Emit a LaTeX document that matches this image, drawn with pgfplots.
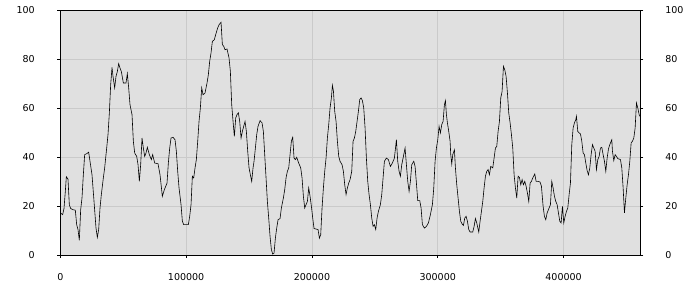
\documentclass[border=0pt]{standalone}
\usepackage{pgfplots}
\pgfplotsset{compat=1.18}
\usepackage{fontspec}
\setmainfont{DejaVu Sans}
\definecolor{bg}{HTML}{E0E0E0}
\definecolor{gridc}{HTML}{CACACA}
\begin{document}
\begin{tikzpicture}
\useasboundingbox (-60.3pt,-45pt) rectangle (639.7pt,255pt);
\begin{axis}[
  at={(0pt,0pt)}, anchor=south west,
  scale only axis, width=580pt, height=244.7pt,
  xmin=0, xmax=461000, ymin=0, ymax=100,
  xtick={0,100000,200000,300000,400000},
  ytick={0,20,40,60,80,100},
  scaled x ticks=false,
  xticklabel style={/pgf/number format/fixed,/pgf/number format/1000 sep={}},
  /pgf/number format/assume math mode=true,
  tick label style={font=\fontsize{9.5}{11}\selectfont, text=black},
  xticklabel style={yshift=-11.5pt},
  yticklabel style={xshift=-19pt},
  xtick pos=bottom, ytick pos=left,
  tick align=outside, major tick length=3pt,
  tick style={black, line width=0.8pt},
  axis line style={black, line width=0.9pt},
  grid=major, major grid style={gridc, line width=0.8pt},
  axis background/.style={fill=bg},
]
\addplot[black, line width=0.6pt, mark=none] coordinates {
(0,17.2)(1880,16.5)(2940,19)(4000,26)(4800,32)(6120,31)(7180,20.5)(8240,19)(10100,18.5)(11950,18.3)
(13010,12.4)(14070,10.4)(15130,6)(16190,18.5)(17250,23.3)(18310,32.8)(19370,41)(20960,41.4)(22550,42)(23610,38.3)
(25200,32.8)(26790,22)(28380,11)(29440,7.2)(30500,10.4)(31560,19.2)(32620,24.7)(34210,31.5)(35270,35.6)(36860,43.7)
(37920,49.2)(38980,58)(40040,69.6)(41100,76.7)(41900,73)(43220,68.3)(44280,73)(45340,75)(46400,78.2)(47460,76.4)
(48520,75)(50110,70.3)(52230,70.3)(53290,74.1)(54350,68.3)(55410,61.4)(57000,57.4)(58060,46.5)(59120,41.7)(60710,40.3)
(61770,37)(62830,30.1)(63890,37)(64950,47.8)(66010,43.7)(67070,40.3)(68130,41.7)(69190,44)(70780,41)(72370,39)
(73430,41)(75020,37.6)(77670,37.3)(79260,32.8)(81110,24)(82700,26.7)(84830,29.4)(85880,37.6)(86950,43.7)(88010,47.8)
(89600,48.1)(91190,47.1)(92240,42.4)(93310,34.2)(94370,27.4)(95960,20.6)(97010,13.8)(98080,12.4)(101780,12.4)(102850,15.8)
(103910,20.6)(104960,32.2)(106030,31.5)(107090,35.6)(108140,39)(109210,46.5)(110270,54.6)(111320,60.1)(112390,68.3)(113450,65.5)
(115040,66.2)(116630,70.3)(117680,73.7)(118750,79.2)(119810,82.6)(120860,87.3)(122450,88)(123520,90.1)(125110,92.8)(126170,94.1)
(127760,95.1)(128810,86)(129880,85.3)(130940,83.9)(132530,84.2)(134120,80.5)(135170,75.1)(136240,61.4)(137300,54.6)(138350,48.5)
(139420,56)(140480,57.4)(141530,58.1)(142600,54.6)(143660,47.8)(144710,50.5)(145780,52.6)(146840,54.6)(147890,50.5)(148960,42.4)
(150020,35.6)(151070,32.8)(152140,30.1)(153200,35.6)(153990,38.3)(155050,43.7)(156110,49.2)(157170,52.6)(158760,54.9)(160350,54)
(161410,50.5)(162470,41)(163530,31.5)(164590,21.9)(165650,15.1)(166710,7.6)(167770,2.2)(168830,0.4)(169890,0.8)(170950,6.9)
(172010,11)(173070,14.4)(174660,14.9)(175720,19.2)(177310,23.3)(178370,26.7)(179430,31.5)(180490,34.2)(181550,35.6)(182610,41)
(183670,46.5)(184730,48.1)(185790,39.6)(186850,39)(187910,39.9)(188970,38.3)(190030,36.9)(191090,35.6)(192150,31.5)(193210,24)
(194270,19.2)(195330,20.6)(196390,21.9)(197450,27.4)(198510,24)(199570,19.9)(200630,15.1)(201690,10.8)(203280,10.6)(204870,10.4)
(205930,6.9)(206990,8.3)(208050,19.2)(209110,27.4)(210170,34.2)(211230,39.6)(212290,47.8)(213350,53.3)(214410,60.1)(215470,64.2)
(216260,69.3)(217060,67.2)(218120,58.7)(219180,54.6)(220240,46.5)(221300,40.3)(222360,38.3)(223950,36.9)(225010,34.2)(226070,28.7)
(227130,24.7)(228190,27.4)(229250,29.4)(230310,30.8)(231640,34.2)(232700,46.5)(233750,47.8)(234820,50.5)(235880,54.6)(236930,58.7)
(238000,63.5)(239060,64.2)(240110,63.1)(241180,60.1)(242240,51.9)(243290,39.6)(244360,30.1)(245420,24.7)(246470,20.6)(247540,15.1)
(248600,11.7)(249650,12.4)(250720,10.4)(251780,15.1)(252830,17.8)(254420,20.6)(255490,24.7)(256550,31.5)(257600,38.3)(259190,39.6)
(260780,39)(262370,36.2)(263960,37.6)(265550,39.6)(267140,47.1)(268200,38.3)(269270,34.2)(270320,32.2)(271390,36.9)(272450,39.6)
(274040,43.7)(275090,36.9)(276160,30.1)(277220,26)(278270,30.1)(279340,36.9)(280930,38.3)(281990,36.2)(283040,29.4)(284110,22.2)
(285700,22.2)(286760,19.2)(287810,12.4)(289400,11)(290990,11.7)(292580,13.1)(294170,16.5)(295760,20.6)(296830,27.4)(297890,38.3)
(298940,43.7)(300010,47.1)(301070,52.6)(302120,49.9)(303190,53.3)(304250,54.6)(305300,61.4)(306100,63.1)(306890,57.4)(307690,54)
(308750,50.5)(309810,46.5)(310340,41)(311140,37.2)(311930,41)(313250,43)(314050,35.6)(315110,28.7)(316170,23.3)(317230,17.8)
(318290,13.8)(319350,12.7)(320410,12.1)(321470,15.1)(322530,15.8)(323590,13.8)(324650,10.4)(325710,9.4)(327830,9.4)(328890,11.7)
(329950,14.9)(331010,13.1)(332600,9.4)(333660,13.8)(334720,17.8)(335780,21.9)(336840,27.4)(337900,32.2)(338960,34.2)(340020,34.9)
(341080,32.8)(342140,36.2)(343730,35.6)(344790,39.6)(345850,43.7)(346910,44.4)(347970,50.5)(349030,54.6)(350090,64.2)(351150,66.9)
(352210,77.1)(353270,75.7)(354330,73)(355390,66.2)(356450,58)(357510,54)(358570,49.2)(359630,43.7)(360690,32.8)(361750,27.4)
(362810,23.3)(363870,32.2)(364930,31.7)(365990,28.7)(367050,30.8)(368110,28.7)(369170,30.1)(370230,28.1)(371290,25.3)(372350,21.9)
(373410,29.4)(374470,30.1)(375530,31.5)(377120,33.1)(378180,30.1)(379770,30.1)(381360,29.8)(382420,28.1)(383750,19.9)(384800,15.8)
(385870,14.4)(386930,17.2)(388520,19.2)(389570,20.6)(390640,30.1)(391700,27.4)(392750,24)(393820,21.9)(394880,20.6)(395930,17.2)
(397000,13.8)(398060,13.1)(399110,19.9)(400180,13.1)(401240,15.8)(402290,17.8)(403360,19.2)(404420,24.7)(405470,29.4)(406540,45.1)
(407600,51.9)(408650,54)(409720,55.3)(410240,56.7)(411310,50.5)(412370,49.9)(413420,49.5)(414490,46.5)(415550,41.7)(416600,41)
(417670,37.6)(418730,34.5)(419780,32.8)(420850,35.6)(421910,41)(422960,45.1)(424030,43.7)(425090,42.4)(426140,34.9)(427210,39)
(428270,40.3)(429320,43.7)(430390,44)(431450,41)(432500,38.3)(433570,34.2)(434630,39.6)(435680,43.3)(436750,45.1)(437810,46.5)
(438340,47.1)(438860,42.4)(439930,38.6)(440990,41)(442040,40.3)(443110,39.4)(445220,39)(446290,35.6)(447350,27.4)(448400,17.2)
(449470,23.3)(450530,28.7)(451580,32.8)(452650,38.3)(453710,45.8)(454760,46.5)(455830,47.8)(456890,51.9)(457940,62.1)(459010,60.1)
(460070,57.4)(460600,56.7)
};
\end{axis}
\begin{axis}[
  at={(0pt,0pt)}, anchor=south west,
  scale only axis, width=580pt, height=244.7pt,
  xmin=0, xmax=461000, ymin=0, ymax=100,
  axis x line=none, axis y line*=right,
  ytick={0,20,40,60,80,100},
  /pgf/number format/assume math mode=true,
  tick label style={font=\fontsize{9.5}{11}\selectfont, text=black},
  yticklabel style={xshift=18.5pt},
  tick align=outside, major tick length=3pt,
  tick style={black, line width=0.8pt},
  axis line style={black, line width=0.9pt, -},
]
\end{axis}
\end{tikzpicture}
\end{document}
